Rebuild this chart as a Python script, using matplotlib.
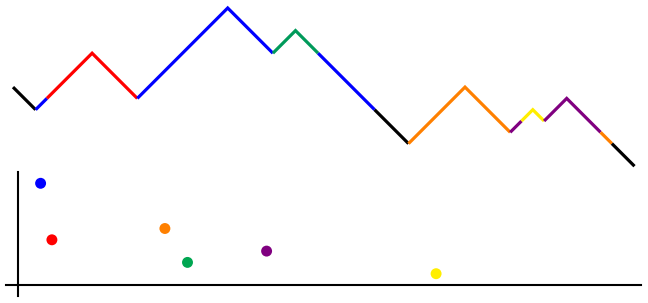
import numpy as np
import matplotlib
matplotlib.use("Agg")
import matplotlib.pyplot as plt

# piecewise linear profile (vertices)
path_x = [0, 2, 7, 11, 19, 23, 25, 35, 40, 44, 46, 47, 49, 55]
path_h = [6, 4, 9, 5, 13, 9, 11, 1, 6, 2, 4, 3, 5, -1]

# where the colour changes along the profile
seg_edges = [0, 2, 3, 11, 23, 27, 32, 35, 44, 45, 47, 52, 53, 55]
seg_colors = ["black", "blue", "red", "blue", "#009a5a", "blue", "black",
              "#ff8000", "#800080", "#ffee00", "#800080", "#ff8000", "black"]

# diagram points
pt_x = [2, 3, 13, 15, 22, 37]
pt_y = [9, 4, 5, 2, 3, 1]
pt_colors = ["blue", "red", "#ff8000", "#00a651", "#800080", "#ffee00"]

W, H = 648, 303
u = 11.3  # pixels per unit
fig = plt.figure(figsize=(W/100, H/100), dpi=100)

# top profile
ax1 = fig.add_axes([0, 0, 1, 1])
ax1.set_xlim(-13/u, (W-13)/u)
ax1.set_ylim((154.9-H)/u, 154.9/u)
ax1.axis("off")
px = np.array(path_x, float)
ph = np.array(path_h, float)
for i, c in enumerate(seg_colors):
    a, b = seg_edges[i], seg_edges[i+1]
    inner = px[(px > a) & (px < b)]
    xs = np.concatenate([[a], inner, [b]])
    ys = np.interp(xs, px, ph)
    ax1.plot(xs, ys, color=c, lw=2.3, solid_capstyle="butt", solid_joinstyle="miter")

# bottom diagram
left, right = 6/W, 641/W
ax2 = fig.add_axes([left, (H-296)/H, right-left, (296-172)/H])
ax2.set_xlim(-12/u, (641-18)/u)
ax2.set_ylim(-11/u, 113/u)
for s in ["top", "right"]:
    ax2.spines[s].set_visible(False)
ax2.spines["left"].set_position(("data", 0))
ax2.spines["bottom"].set_position(("data", 0))
for s in ["left", "bottom"]:
    ax2.spines[s].set_linewidth(1.5)
ax2.set_xticks([])
ax2.set_yticks([])
ax2.patch.set_alpha(0)
ax2.scatter(pt_x, pt_y, s=62, c=pt_colors, edgecolors="none", clip_on=False, zorder=3)

fig.savefig("out.png", dpi=100)
